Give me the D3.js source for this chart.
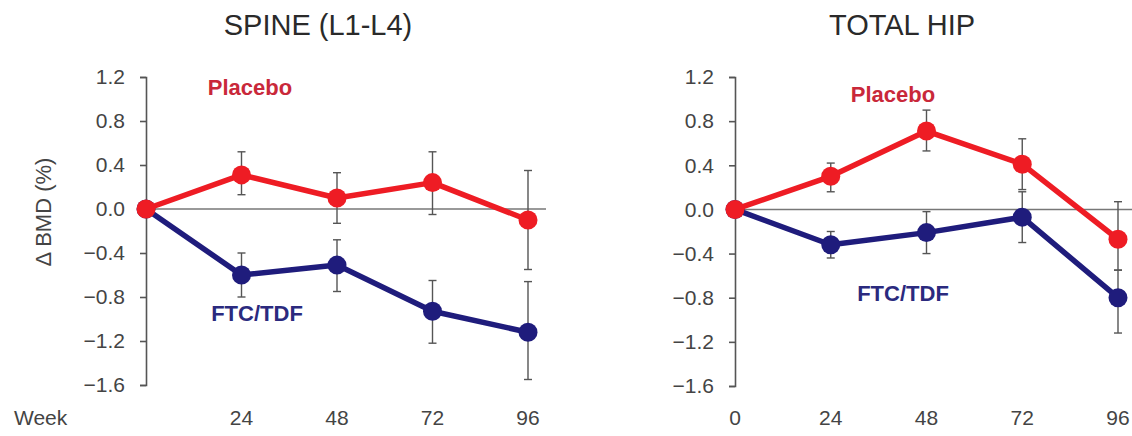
<!DOCTYPE html>
<html>
<head>
<meta charset="utf-8">
<script src="https://cdn.jsdelivr.net/npm/d3@7"></script>
<style>
  body { margin: 0; background: #fff; }
  svg { display: block; font-family: "Liberation Sans", Arial, sans-serif; }
</style>
</head>
<body>
<div class="chart"></div>
<script>
var weeks = [0, 24, 48, 72, 96];
var yTicks = [1.2, 0.8, 0.4, 0.0, -0.4, -0.8, -1.2, -1.6];

// SPINE (L1-L4)
var spinePlacebo   = [0, 0.31, 0.10, 0.24, -0.10];
var spinePlaceboLo = [0, 0.13, -0.13, -0.05, -0.55];
var spinePlaceboHi = [0, 0.52, 0.33, 0.52, 0.35];
var spineFtc   = [0, -0.60, -0.51, -0.93, -1.12];
var spineFtcLo = [0, -0.80, -0.75, -1.22, -1.55];
var spineFtcHi = [0, -0.40, -0.28, -0.65, -0.66];

// TOTAL HIP
var hipPlacebo   = [0, 0.30, 0.71, 0.41, -0.27];
var hipPlaceboLo = [0, 0.16, 0.53, 0.18, -0.55];
var hipPlaceboHi = [0, 0.42, 0.90, 0.64, 0.07];
var hipFtc   = [0, -0.32, -0.21, -0.07, -0.80];
var hipFtcLo = [0, -0.44, -0.40, -0.30, -1.12];
var hipFtcHi = [0, -0.20, -0.02, 0.16, -0.55];

var red = "#ee1c24";
var navy = "#1f1c7c";

var width = 1132, height = 436;

var svg = d3.select(".chart")
    .append("svg")
    .attr("width", width)
    .attr("height", height);

function fmt(v) {
  return v.toFixed(1).replace("-", "\u2212");
}

function panel(opt) {
  var x = d3.scaleLinear().domain([0, 96]).range([opt.x0, opt.x1]);
  var y = d3.scaleLinear().domain([-1.6, 1.2]).range([opt.yBottom, 77]);

  var g = svg.append("g");

  g.append("text")
      .attr("x", opt.titleX)
      .attr("y", 35)
      .attr("text-anchor", "middle")
      .style("font-size", "29px")
      .style("fill", "#2a2a2a")
      .text(opt.title);

  // zero line
  g.append("line")
      .attr("x1", x(0)).attr("x2", opt.zeroEnd)
      .attr("y1", y(0)).attr("y2", y(0))
      .style("stroke", "#777")
      .style("stroke-width", 1.6);

  // y axis
  var yAxis = d3.axisLeft(y)
      .tickValues(yTicks)
      .tickSize(6)
      .tickPadding(15)
      .tickFormat(fmt);

  var ya = g.append("g")
      .attr("transform", "translate(" + x(0) + ",0)")
      .call(yAxis);
  ya.select(".domain").style("stroke", "#555").style("stroke-width", 1.6);
  ya.selectAll(".tick line").style("stroke", "#555").style("stroke-width", 1.6);
  ya.selectAll("text")
      .style("font-size", "21px")
      .style("fill", "#444")
      .style("font-family", "Liberation Sans, Arial, sans-serif");

  // x tick labels (no axis line)
  g.selectAll(".xlab")
      .data(opt.xLabels)
    .enter().append("text")
      .attr("x", function(d) { return x(d); })
      .attr("y", 425)
      .attr("text-anchor", "middle")
      .style("font-size", "21px")
      .style("fill", "#444")
      .text(function(d) { return d; });

  function series(vals, lo, hi, color) {
    var pts = weeks.map(function(w, i) {
      return {w: w, v: vals[i], lo: lo[i], hi: hi[i]};
    });

    var eb = g.append("g");
    pts.forEach(function(d) {
      if (d.w === 0) return;
      eb.append("line")
          .attr("x1", x(d.w)).attr("x2", x(d.w))
          .attr("y1", y(d.lo)).attr("y2", y(d.hi))
          .style("stroke", "#555").style("stroke-width", 1.4);
      [d.lo, d.hi].forEach(function(e) {
        eb.append("line")
            .attr("x1", x(d.w) - 4).attr("x2", x(d.w) + 4)
            .attr("y1", y(e)).attr("y2", y(e))
            .style("stroke", "#555").style("stroke-width", 1.4);
      });
    });

    var line = d3.line()
        .x(function(d) { return x(d.w); })
        .y(function(d) { return y(d.v); });

    g.append("path")
        .datum(pts)
        .attr("d", line)
        .style("fill", "none")
        .style("stroke", color)
        .style("stroke-width", 5.5)
        .style("stroke-linejoin", "round");

    g.selectAll(null)
        .data(pts)
      .enter().append("circle")
        .attr("cx", function(d) { return x(d.w); })
        .attr("cy", function(d) { return y(d.v); })
        .attr("r", 9.5)
        .style("fill", color);
  }

  series(opt.ftc, opt.ftcLo, opt.ftcHi, navy);
  series(opt.placebo, opt.placeboLo, opt.placeboHi, red);

  g.append("text")
      .attr("x", opt.placeboLabel[0]).attr("y", opt.placeboLabel[1])
      .attr("text-anchor", "middle")
      .style("font-size", "22px")
      .style("font-weight", "bold")
      .style("fill", "#c9283a")
      .text("Placebo");

  g.append("text")
      .attr("x", opt.ftcLabel[0]).attr("y", opt.ftcLabel[1])
      .attr("text-anchor", "middle")
      .style("font-size", "22px")
      .style("font-weight", "bold")
      .style("fill", "#2b2a7e")
      .text("FTC/TDF");
}

panel({
  title: "SPINE (L1-L4)", titleX: 318,
  x0: 146, x1: 528, yBottom: 385, zeroEnd: 546,
  xLabels: [24, 48, 72, 96],
  placebo: spinePlacebo, placeboLo: spinePlaceboLo, placeboHi: spinePlaceboHi,
  ftc: spineFtc, ftcLo: spineFtcLo, ftcHi: spineFtcHi,
  placeboLabel: [250, 95], ftcLabel: [257, 321]
});

panel({
  title: "TOTAL HIP", titleX: 902,
  x0: 735, x1: 1118, yBottom: 386, zeroEnd: 1132,
  xLabels: [0, 24, 48, 72, 96],
  placebo: hipPlacebo, placeboLo: hipPlaceboLo, placeboHi: hipPlaceboHi,
  ftc: hipFtc, ftcLo: hipFtcLo, ftcHi: hipFtcHi,
  placeboLabel: [893, 102], ftcLabel: [903, 301]
});

// shared labels
svg.append("text")
    .attr("x", 14).attr("y", 425)
    .style("font-size", "21px")
    .style("fill", "#444")
    .text("Week");

svg.append("text")
    .attr("transform", "translate(51,212) rotate(-90)")
    .attr("text-anchor", "middle")
    .style("font-size", "22px")
    .style("fill", "#444")
    .text("\u0394 BMD (%)");
</script>
</body>
</html>
